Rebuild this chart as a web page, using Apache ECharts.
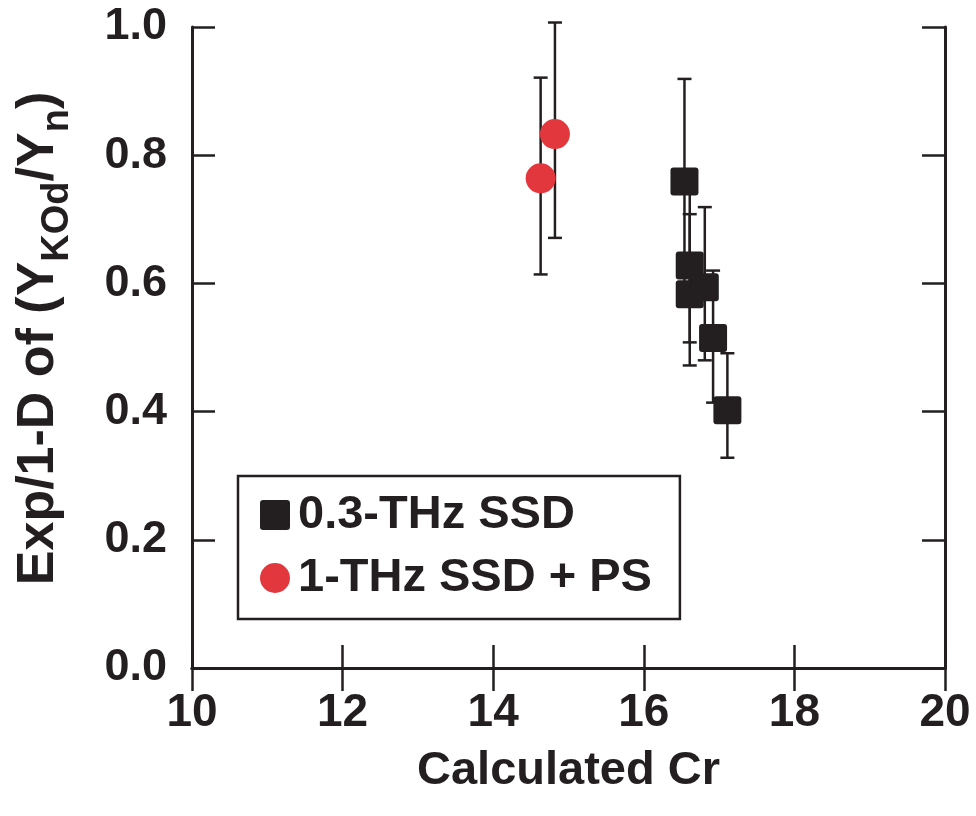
<!DOCTYPE html>
<html>
<head>
<meta charset="utf-8">
<script src="https://cdn.jsdelivr.net/npm/echarts@6/dist/echarts.min.js"></script>
<style>html,body{margin:0;padding:0;background:#fff;}#c{width:976px;height:816px;}</style>
</head>
<body>
<div id="c"></div>
<script>
// 0.3-THz SSD (squares)
const sqX  = [16.54, 16.61, 16.61, 16.81, 16.92, 17.11];
const sqY  = [0.759, 0.628, 0.583, 0.594, 0.515, 0.402];
const sqLo = [0.600, 0.508, 0.472, 0.480, 0.414, 0.328];
const sqHi = [0.919, 0.748, 0.708, 0.719, 0.620, 0.491];
// 1-THz SSD + PS (circles)
const ciX  = [14.63, 14.82];
const ciY  = [0.764, 0.833];
const ciLo = [0.614, 0.671];
const ciHi = [0.921, 1.007];

const xTicks = [10, 12, 14, 16, 18, 20];
const yTicks = [0.0, 0.2, 0.4, 0.6, 0.8, 1.0];

const INK = '#231f20';
const RED = '#e3373e';
const FONT = '"Liberation Sans", Arial, Helvetica, sans-serif';
const SQ = 'path://M3,0H25Q28,0 28,3V25Q28,28 25,28H3Q0,28 0,25V3Q0,0 3,0Z';

const chart = echarts.init(document.getElementById('c'), null, {renderer: 'canvas'});

function errRender(params, api) {
  const x = api.value(0), lo = api.value(1), hi = api.value(2);
  const pLo = api.coord([x, lo]);
  const pHi = api.coord([x, hi]);
  const cap = 7;
  const st = {stroke: INK, lineWidth: 2.5};
  return {
    type: 'group',
    children: [
      {type: 'line', shape: {x1: pLo[0], y1: pLo[1], x2: pHi[0], y2: pHi[1]}, style: st},
      {type: 'line', shape: {x1: pLo[0]-cap, y1: pLo[1], x2: pLo[0]+cap, y2: pLo[1]}, style: st},
      {type: 'line', shape: {x1: pHi[0]-cap, y1: pHi[1], x2: pHi[0]+cap, y2: pHi[1]}, style: st}
    ]
  };
}

const sqErr = sqX.map((x, i) => [x, sqLo[i], sqHi[i]]);
const ciErr = ciX.map((x, i) => [x, ciLo[i], ciHi[i]]);

const axisLineStyle = {show: true, lineStyle: {color: INK, width: 3}};
const tickStyle = {show: true, inside: true, length: 23, lineStyle: {color: INK, width: 2.5}};

chart.setOption({
  backgroundColor: '#fff',
  animation: false,
  grid: {left: 192, right: 31, top: 27, bottom: 148, containLabel: false},
  xAxis: [
    {
      type: 'value', min: xTicks[0], max: xTicks[xTicks.length-1], interval: 2,
      position: 'bottom',
      axisLine: axisLineStyle, axisTick: tickStyle, splitLine: {show: false},
      axisLabel: {show: true, color: INK, fontSize: 46, fontWeight: 'bold', fontFamily: FONT, margin: 22},
      name: 'Calculated Cr', nameLocation: 'middle', nameGap: 80,
      nameTextStyle: {color: INK, fontSize: 47, fontWeight: 'bold', fontFamily: FONT}
    },
    {
      type: 'value', min: xTicks[0], max: xTicks[xTicks.length-1], interval: 2,
      position: 'top',
      axisLine: axisLineStyle, axisTick: tickStyle, splitLine: {show: false},
      axisLabel: {show: false}
    }
  ],
  yAxis: [
    {
      type: 'value', min: yTicks[0], max: yTicks[yTicks.length-1], interval: 0.2,
      position: 'left',
      axisLine: axisLineStyle, axisTick: tickStyle, splitLine: {show: false},
      axisLabel: {show: true, color: INK, fontSize: 45, fontWeight: 'bold', fontFamily: FONT, margin: 25,
        formatter: v => v.toFixed(1)},
      name: '{a|Exp/1-D of (Y}{s|KOd}{a|/Y}{s|n}{a|)}',
      nameLocation: 'middle', nameRotate: 90, nameGap: 124,
      nameTextStyle: {
        color: INK, fontWeight: 'bold', fontFamily: FONT,
        padding: [0, 0, 0, 18],
        rich: {
          a: {fontSize: 52, fontWeight: 'bold', fontFamily: FONT, color: INK, lineHeight: 58},
          s: {fontSize: 38, fontWeight: 'bold', fontFamily: FONT, color: INK, verticalAlign: 'bottom', lineHeight: 36, padding: [0, 0, -9, 0]}
        }
      }
    },
    {
      type: 'value', min: yTicks[0], max: yTicks[yTicks.length-1], interval: 0.2,
      position: 'right',
      axisLine: axisLineStyle, axisTick: tickStyle, splitLine: {show: false},
      axisLabel: {show: false}
    }
  ],
  legend: {
    orient: 'vertical',
    left: 238, top: 476,
    padding: [15, 28, 17, 22],
    itemGap: 15,
    itemWidth: 30, itemHeight: 30,
    borderColor: INK, borderWidth: 2.5,
    backgroundColor: '#fff',
    data: [
      {name: '0.3-THz SSD', icon: SQ, itemStyle: {color: INK}},
      {name: '1-THz SSD + PS', icon: 'circle'}
    ],
    textStyle: {color: INK, fontSize: 47, fontWeight: 'bold', fontFamily: FONT, lineHeight: 48, padding: [0, 0, 0, 3]},
    itemStyle: {borderWidth: 0}
  },
  series: [
    {
      type: 'custom', name: 'err1', renderItem: errRender, data: sqErr, z: 2,
      encode: {x: 0, y: [1, 2]}, silent: true
    },
    {
      type: 'custom', name: 'err2', renderItem: errRender, data: ciErr, z: 2,
      encode: {x: 0, y: [1, 2]}, silent: true
    },
    {
      type: 'scatter', name: '0.3-THz SSD', symbol: SQ, symbolSize: 28, z: 3,
      itemStyle: {color: INK, opacity: 1},
      data: sqX.map((x, i) => [x, sqY[i]])
    },
    {
      type: 'scatter', name: '1-THz SSD + PS', symbol: 'circle', symbolSize: 30, z: 3,
      itemStyle: {color: RED, opacity: 1},
      data: ciX.map((x, i) => [x, ciY[i]])
    }
  ]
});
</script>
</body>
</html>
